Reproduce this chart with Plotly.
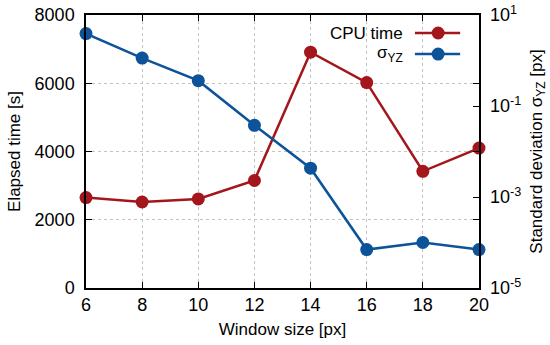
import plotly.graph_objects as go

window_size = [6, 8, 10, 12, 14, 16, 18, 20]
cpu_time = [2650, 2520, 2610, 3150, 6910, 6020, 3420, 4100]
sigma_yz = [3.9, 1.13, 0.36, 0.0376, 0.0043, 7.0e-5, 1.0e-4, 7.0e-5]

y_ticks = [0, 2000, 4000, 6000, 8000]
y2_ticks = [1e1, 1e-1, 1e-3, 1e-5]
y2_ticktext = ["10<sup>1</sup>", "10<sup>-1</sup>", "10<sup>-3</sup>", "10<sup>-5</sup>"]
x_ticks = [6, 8, 10, 12, 14, 16, 18, 20]

RED = "#a3161c"
BLUE = "#0c5399"
FONT = "Liberation Sans"
TICK = 18
TITLE = 17

fig = go.Figure()
fig.add_trace(go.Scatter(x=window_size, y=cpu_time, mode="lines+markers",
                         line=dict(color=RED, width=2.5),
                         marker=dict(color=RED, size=13),
                         name="CPU time", showlegend=False, cliponaxis=False))
fig.add_trace(go.Scatter(x=window_size, y=sigma_yz, mode="lines+markers",
                         line=dict(color=BLUE, width=2.5),
                         marker=dict(color=BLUE, size=13),
                         name="σYZ", yaxis="y2", showlegend=False, cliponaxis=False))

grid = dict(showgrid=True, gridcolor="#c4c4c4", griddash="dot", gridwidth=1)

fig.update_layout(
    width=550, height=345,
    margin=dict(l=86, r=71, t=15, b=57, autoexpand=False),
    paper_bgcolor="white", plot_bgcolor="white",
    font=dict(family=FONT, size=TICK, color="black"),
    xaxis=dict(range=[6, 20], tickvals=x_ticks, ticks="inside", ticklen=6,
               tickcolor="black", showline=True, linecolor="black", linewidth=1.5,
               mirror="ticks", zeroline=False, ticklabelstandoff=0, automargin=False,
               ticklabeloverflow="allow", tickfont=dict(family=FONT, size=TICK),
               title=dict(text="Window size [px]", standoff=9,
                          font=dict(family=FONT, size=TITLE)), **grid),
    yaxis=dict(range=[0, 8000], tickvals=y_ticks, ticks="inside", ticklen=6,
               tickcolor="black", showline=True, linecolor="black", linewidth=1.5,
               mirror="ticks", zeroline=False, ticklabelstandoff=6, automargin=False,
               ticklabeloverflow="allow", tickfont=dict(family=FONT, size=TICK),
               title=dict(text="Elapsed time [s]", standoff=10,
                          font=dict(family=FONT, size=TITLE)), **grid),
    yaxis2=dict(type="log", range=[-5, 1], overlaying="y", side="right",
                tickvals=y2_ticks, ticktext=y2_ticktext, ticks="inside", ticklen=6,
                tickcolor="black", showgrid=False, zeroline=False, showline=False,
                ticklabelstandoff=10, automargin=False, ticklabeloverflow="allow",
                tickfont=dict(family=FONT, size=TICK),
                title=dict(text="Standard deviation σ<sub>YZ</sub> [px]", standoff=9,
                           font=dict(family=FONT, size=TITLE))),
)

# Legend drawn manually (text on the left, sample on the right)
legend_rows = [("CPU time", RED, 0.934), ("σ<sub>YZ</sub>", BLUE, 0.857)]
for label, color, yy in legend_rows:
    fig.add_annotation(text=label, xref="paper", yref="paper", x=0.812, y=yy,
                       xanchor="right", yanchor="middle", showarrow=False,
                       font=dict(family=FONT, size=TITLE, color="black"))
    fig.add_shape(type="line", xref="paper", yref="paper", x0=0.837, x1=0.952,
                  y0=yy, y1=yy, line=dict(color=color, width=2.5))
    fig.add_shape(type="circle", xref="paper", yref="paper",
                  xsizemode="pixel", ysizemode="pixel",
                  xanchor=0.896, yanchor=yy, x0=-6.5, x1=6.5, y0=-6.5, y1=6.5,
                  fillcolor=color, line=dict(color=color, width=0))

fig.write_html("out.html", config={"displayModeBar": False},
               post_script="document.body.style.margin='0px';document.body.style.overflow='hidden';")
